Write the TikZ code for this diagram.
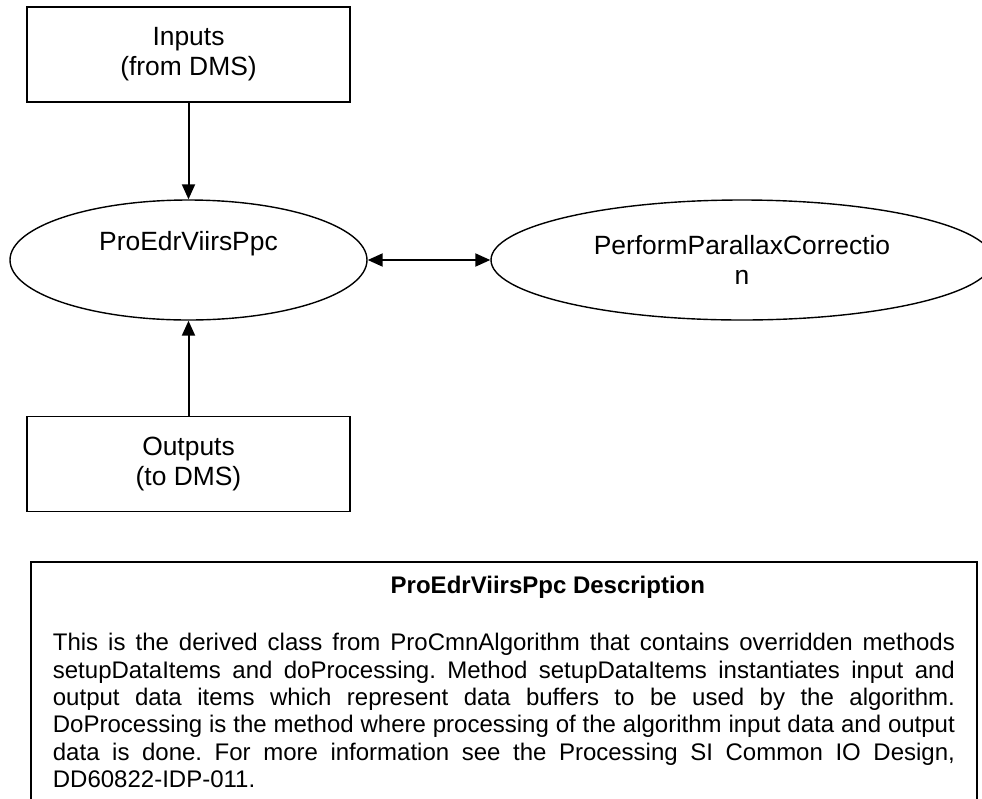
\documentclass[tikz,border=0pt]{standalone}
\usepackage{fontspec}
\setmainfont{Liberation Sans}
\usetikzlibrary{shapes.geometric,arrows.meta}
\begin{document}
\begin{tikzpicture}[x=0.5pt,y=-0.5pt]
\tikzstyle{box}=[draw,line width=0.9pt,rectangle,align=center,minimum width=161.5pt,minimum height=47.5pt,font=\fontsize{13.2}{15}\selectfont]
\tikzstyle{oval}=[draw,line width=0.7pt,ellipse,align=center,inner sep=0pt,minimum height=60pt,font=\fontsize{13.2}{15}\selectfont]
\tikzstyle{flow}=[line width=1pt,-{Triangle[length=7.5pt,width=6.5pt]}]
\tikzstyle{link}=[line width=1pt,{Triangle[length=7.5pt,width=6.5pt]}-{Triangle[length=7.5pt,width=6.5pt]}]
\useasboundingbox (0,0) rectangle (982,799);
\clip (0,0) rectangle (982,799);
\node[box] at (188.5,54.5) (inputs) {Inputs\\(from DMS)};
\node[oval,minimum width=178.5pt] at (188.5,260) (ppc) {ProEdrViirsPpc\\\strut};
\node[oval,minimum width=251pt] at (742,260) (parallax) {PerformParallaxCorrectio\\n};
\node[box] at (188.5,464) (outputs) {Outputs\\(to DMS)};
\node[draw,line width=0.9pt,anchor=north west,text width=451pt,inner xsep=11pt,inner ysep=7pt,align=justify,font=\fontsize{12}{13.7}\selectfont\frenchspacing] at (30,561) (desc) {%
{\centering\hspace*{44pt}\textbf{ProEdrViirsPpc Description}\par}
\vspace{15pt}
This is the derived class from ProCmnAlgorithm that contains overridden methods\linebreak
setupDataItems and doProcessing. Method setupDataItems instantiates input and\linebreak
output data items which represent data buffers to be used by the algorithm.\linebreak
DoProcessing is the method where processing of the algorithm input data and output\linebreak
data is done. For more information see the Processing SI Common IO Design,\linebreak
DD60822-IDP-011.\par\vspace{20pt}};
\draw[flow] (inputs) -- (ppc);
\draw[flow] (outputs) -- (ppc);
\draw[link] (ppc) -- (parallax);
\end{tikzpicture}
\end{document}
